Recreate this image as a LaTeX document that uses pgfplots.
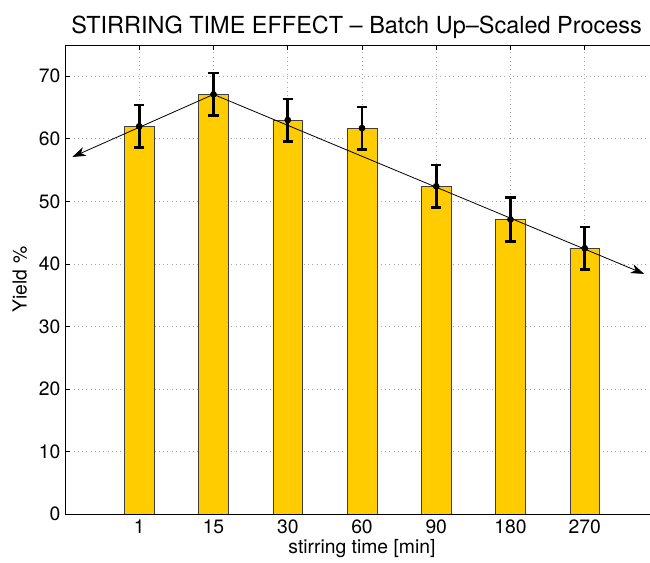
\documentclass[border=0pt]{standalone}
\usepackage{fontspec}
\setmainfont{TeX Gyre Heros}
\usepackage{pgfplots}
\pgfplotsset{compat=1.18}
\usetikzlibrary{arrows.meta}
\definecolor{baryellow}{RGB}{255,204,0}

\begin{document}
\begin{tikzpicture}
\begin{axis}[
  name=ax,
  scale only axis,
  width=445.5pt, height=351.75pt,
  xmin=0, xmax=8, ymin=0, ymax=75,
  xtick={1,...,7},
  xticklabels={1,15,30,60,90,180,270},
  ytick={0,10,...,70},
  tick align=inside,
  major tick length=4pt,
  tick style={black, line width=0.5pt},
  axis line style={black, line width=0.7pt},
  grid=major,
  major grid style={gray!70, line width=0.5pt, dash pattern=on 0.6pt off 2.6pt},
  /pgf/number format/assume math mode=true,
  ticklabel style={font=\fontsize{14.5}{16}\selectfont},
  xticklabel style={yshift=-1pt},
  label style={font=\fontsize{14.5}{16}\selectfont},
  xlabel={stirring time [min]},
  xlabel style={yshift=3pt},
  ylabel={Yield \%},
  ylabel style={yshift=2pt},
  title={STIRRING TIME EFFECT – Batch Up–Scaled Process},
  title style={font=\fontsize{17.6}{20}\selectfont, yshift=-5pt, xshift=-4pt},
]
% yield per stirring time
\addplot[ybar, bar width=0.4, fill=baryellow, draw=black!75, line width=0.5pt]
  coordinates {(1,62.0) (2,67.1) (3,63.0) (4,61.7) (5,52.4) (6,47.1) (7,42.5)};

% trend arrows through the maximum
\addplot[black, line width=0.6pt, -{Stealth[length=10pt, width=7pt, inset=3pt]}]
  coordinates {(2,67.1) (0.1,57.1)};
\addplot[black, line width=0.6pt, -{Stealth[length=10pt, width=7pt, inset=3pt]}]
  coordinates {(2,67.1) (7.8,38.4)};

% means with error bars
\addplot[only marks, mark=*, mark size=2.3pt, black,
  error bars/.cd, y dir=both, y explicit,
  error bar style={line width=1.9pt},
  error mark options={rotate=90, mark size=3.8pt, line width=1.9pt}]
  coordinates {
    (1,62.0) +- (0,3.4)
    (2,67.1) +- (0,3.4)
    (3,63.0) +- (0,3.4)
    (4,61.7) +- (0,3.4)
    (5,52.4) +- (0,3.4)
    (6,47.1) +- (0,3.5)
    (7,42.5) +- (0,3.4)
  };
\end{axis}
\pgfresetboundingbox
\path[use as bounding box]
  ([shift={(-48.75pt,-36.75pt)}]ax.south west) rectangle
  ([shift={(438.75pt,385.5pt)}]ax.south west);
\end{tikzpicture}
\end{document}
